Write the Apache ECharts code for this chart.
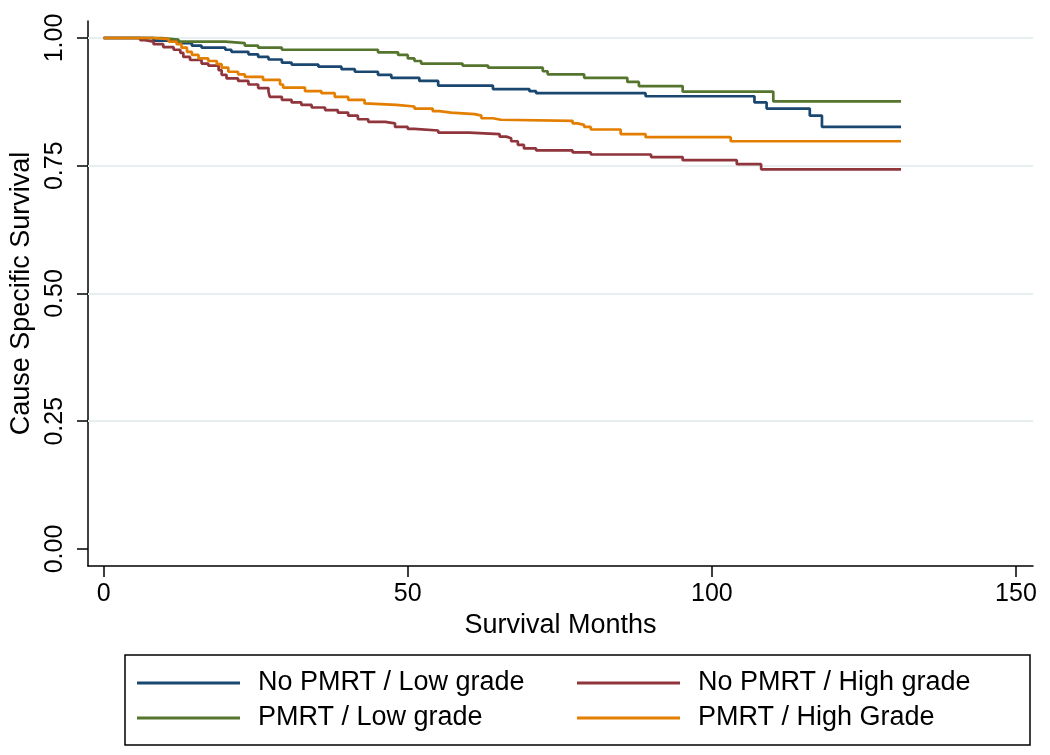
<!DOCTYPE html>
<html>
<head>
<meta charset="utf-8">
<script src="https://cdn.jsdelivr.net/npm/echarts@6/dist/echarts.min.js"></script>
<style>
html,body{margin:0;padding:0;background:#fff;}
#chart{width:1050px;height:755px;}
</style>
</head>
<body>
<div id="chart"></div>
<script>
// ---- data (months, survival) ----
const xTicks = [0, 50, 100, 150];
const yTicks = [0, 0.25, 0.5, 0.75, 1.0];
const gridValues = [0.25, 0.5, 0.75, 1.0];

const noPmrtLowT = [0, 8.2, 12.3, 14.5, 16.1, 20.0, 21.0, 23.8, 25.4, 27.1, 29.3, 30.9, 35.3, 39.1, 41.3, 45.1, 47.3, 51.9, 55.0, 64.0, 70.0, 71.1, 89.1, 107.0, 109.0, 116.1, 118.1, 131.1];
const noPmrtLowS = [1, 0.995, 0.990, 0.985, 0.981, 0.977, 0.973, 0.968, 0.963, 0.958, 0.952, 0.948, 0.944, 0.939, 0.934, 0.928, 0.922, 0.916, 0.907, 0.900, 0.896, 0.892, 0.886, 0.874, 0.862, 0.848, 0.826, 0.826];

const pmrtLowT = [0, 9.5, 12.3, 20.0, 23.2, 25.4, 29.3, 45.1, 48.4, 50.0, 51.1, 52.2, 59.0, 63.2, 72.2, 73.0, 79.0, 86.1, 88.0, 95.2, 110.1, 131.1];
const pmrtLowS = [1, 0.997, 0.993, 0.990, 0.985, 0.981, 0.977, 0.972, 0.967, 0.960, 0.955, 0.950, 0.946, 0.942, 0.935, 0.929, 0.922, 0.914, 0.906, 0.895, 0.876, 0.876];

const noPmrtHighT = [0, 6.0, 6.8, 8.2, 9.8, 11.5, 12.6, 13.1, 14.2, 16.1, 17.2, 18.9, 19.4, 20.2, 22.1, 23.8, 25.4, 27.1, 27.3, 29.3, 30.9, 32.5, 34.2, 36.4, 38.5, 40.2, 41.8, 43.5, 46.3, 47.9, 50.0, 51.1, 55.0, 60.1, 65.1, 66.2, 67.0, 68.1, 69.1, 71.1, 77.1, 80.1, 90.0, 95.2, 104.1, 108.1, 131.1];
const noPmrtHighS = [1, 0.996, 0.993, 0.988, 0.982, 0.977, 0.971, 0.963, 0.957, 0.950, 0.946, 0.937, 0.928, 0.921, 0.916, 0.909, 0.902, 0.895, 0.885, 0.879, 0.874, 0.869, 0.864, 0.859, 0.854, 0.848, 0.841, 0.836, 0.833, 0.826, 0.822, 0.819, 0.815, 0.812, 0.807, 0.804, 0.798, 0.791, 0.784, 0.780, 0.776, 0.772, 0.767, 0.761, 0.753, 0.743, 0.743];

const pmrtHighT = [0, 8.2, 10.7, 12.0, 12.8, 13.7, 14.5, 15.6, 17.2, 18.6, 19.4, 20.5, 22.1, 23.2, 26.2, 29.0, 29.5, 33.1, 35.8, 38.0, 40.2, 42.9, 43.2, 48.1, 51.1, 54.1, 55.2, 57.1, 61.0, 62.1, 64.0, 65.3, 77.1, 77.9, 79.0, 80.1, 85.0, 89.1, 103.1, 131.1];
const pmrtHighS = [1, 0.998, 0.993, 0.988, 0.981, 0.973, 0.967, 0.960, 0.955, 0.949, 0.942, 0.934, 0.929, 0.924, 0.918, 0.909, 0.903, 0.896, 0.892, 0.885, 0.879, 0.872, 0.869, 0.866, 0.862, 0.857, 0.854, 0.851, 0.848, 0.843, 0.840, 0.838, 0.833, 0.830, 0.826, 0.821, 0.812, 0.806, 0.798, 0.798];

const names = ['No PMRT / Low grade', 'No PMRT / High grade', 'PMRT / Low grade', 'PMRT / High Grade'];
const colors = ['#1a476f', '#90353b', '#55752f', '#e37e00'];

function zip(t, s) { return t.map((v, i) => [v, s[i]]); }

const FONT = 'Liberation Sans, Arial, Helvetica, sans-serif';
const chart = echarts.init(document.getElementById('chart'), null, {renderer: 'canvas'});

function mkSeries(name, color, t, s, extra) {
  return Object.assign({
    name: name,
    type: 'line',
    step: 'end',
    showSymbol: false,
    symbol: 'none',
    z: 3,
    data: zip(t, s),
    lineStyle: {color: color, width: 2.7},
    itemStyle: {color: color},
    emphasis: {disabled: true}
  }, extra || {});
}

const legendCommon = {
  orient: 'vertical',
  icon: 'rect',
  itemWidth: 103,
  itemHeight: 3,
  itemGap: 5,
  padding: 0,
  selectedMode: false,
  textStyle: {fontFamily: FONT, fontSize: 27, color: '#000', lineHeight: 30, padding: [0, 0, 0, 13]}
};

chart.setOption({
  animation: false,
  backgroundColor: '#fff',
  grid: {left: 86, right: 17, top: 21, bottom: 189, containLabel: false},
  xAxis: {
    type: 'value',
    min: -2.576, max: 152.8,
    name: 'Survival Months',
    nameLocation: 'middle',
    nameGap: 42,
    nameTextStyle: {fontFamily: FONT, fontSize: 27, color: '#000'},
    axisLine: {show: true, onZero: false, lineStyle: {color: '#000', width: 1.5}},
    axisTick: {show: true, length: 11, customValues: xTicks, lineStyle: {color: '#000', width: 1.5}},
    axisLabel: {customValues: xTicks, fontFamily: FONT, fontSize: 25, color: '#000', margin: 16},
    splitLine: {show: false}
  },
  yAxis: {
    type: 'value',
    min: -0.0333, max: 1.0333,
    name: 'Cause Specific Survival',
    nameLocation: 'middle',
    nameGap: 53,
    nameTextStyle: {fontFamily: FONT, fontSize: 27, color: '#000'},
    axisLine: {show: true, onZero: false, lineStyle: {color: '#000', width: 1.5}},
    axisTick: {show: true, length: 11, customValues: yTicks, lineStyle: {color: '#000', width: 1.5}},
    axisLabel: {customValues: yTicks, rotate: 90, fontFamily: FONT, fontSize: 25, color: '#000', margin: 20,
      formatter: v => v.toFixed(2)},
    splitLine: {show: false}
  },
  legend: [
    Object.assign({left: 137, top: 668, data: [names[0], names[2]]}, legendCommon),
    Object.assign({left: 577, top: 668, data: [names[1], names[3]]}, legendCommon)
  ],
  graphic: [{
    type: 'rect',
    shape: {x: 125, y: 655, width: 905, height: 90},
    style: {fill: 'none', stroke: '#000', lineWidth: 1.5},
    silent: true
  }],
  series: [
    mkSeries(names[0], colors[0], noPmrtLowT, noPmrtLowS, {
      markLine: {
        silent: true, symbol: 'none', z: 1,
        label: {show: false},
        lineStyle: {color: '#e6eef0', width: 2, type: 'solid'},
        emphasis: {disabled: true},
        data: gridValues.map(v => ({yAxis: v}))
      }
    }),
    mkSeries(names[1], colors[1], noPmrtHighT, noPmrtHighS),
    mkSeries(names[2], colors[2], pmrtLowT, pmrtLowS),
    mkSeries(names[3], colors[3], pmrtHighT, pmrtHighS)
  ]
});
</script>
</body>
</html>
